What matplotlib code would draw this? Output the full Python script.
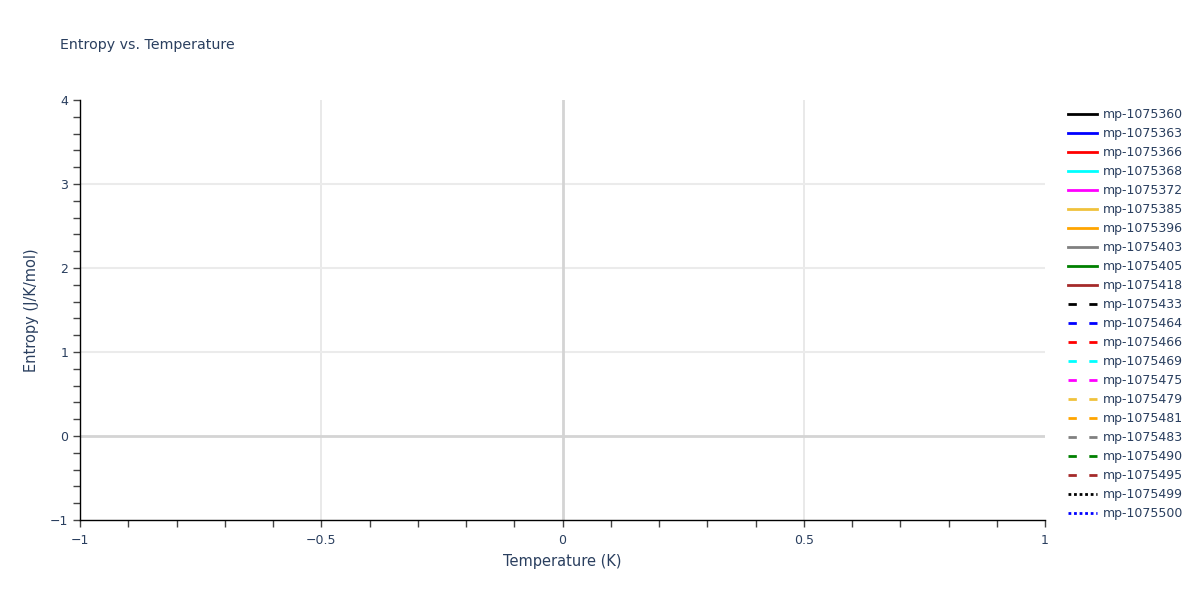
import matplotlib.pyplot as plt
from matplotlib.ticker import MultipleLocator

# series names (the chart has no visible data points)
materiales = ["mp-1075360", "mp-1075363", "mp-1075366", "mp-1075368", "mp-1075372",
              "mp-1075385", "mp-1075396", "mp-1075403", "mp-1075405", "mp-1075418",
              "mp-1075433", "mp-1075464", "mp-1075466", "mp-1075469", "mp-1075475",
              "mp-1075479", "mp-1075481", "mp-1075483", "mp-1075490", "mp-1075495",
              "mp-1075499", "mp-1075500"]
colores = ["black", "blue", "red", "cyan", "magenta", "#f0c23c", "orange", "gray",
           "green", "brown"]
temperatura = []
entropia = []

texto = "#2a3f5f"
plt.rcParams['font.family'] = ['DejaVu Sans']

fig = plt.figure(figsize=(12, 6), dpi=100)
ax = fig.add_axes([80 / 1200, 80 / 600, 965 / 1200, 420 / 600])

for i, nombre in enumerate(materiales):
    color = colores[i % 10]
    if i < 10:
        ax.plot(temperatura, entropia, color=color, lw=2, ls='-', label=nombre)
    elif i < 20:
        ax.plot(temperatura, entropia, color=color, lw=2, ls=(0, (3, 4.5)), label=nombre)
    else:
        ax.plot(temperatura, entropia, color=color, lw=2, ls=(0, (1, 1)), label=nombre)

ax.set_xlim(-1, 1)
ax.set_ylim(-1, 4)
ax.xaxis.set_minor_locator(MultipleLocator(0.1))
ax.yaxis.set_minor_locator(MultipleLocator(0.2))
ax.set_xticks([-1, -0.5, 0, 0.5, 1])
ax.set_xticklabels(["\u22121", "\u22120.5", "0", "0.5", "1"])
ax.set_yticks([-1, 0, 1, 2, 3, 4])
ax.set_yticklabels(["\u22121", "0", "1", "2", "3", "4"])

# grid y lineas de cero
for v in [-0.5, 0.5]:
    ax.axvline(v, color="#e5e5e5", lw=1.2, zorder=0)
for v in [1, 2, 3]:
    ax.axhline(v, color="#ebebeb", lw=1.5, zorder=0)
ax.axvline(0, color="#d4d4d4", lw=2, zorder=0)
ax.axhline(0, color="#d4d4d4", lw=2, zorder=0)

for s in ['top', 'right']:
    ax.spines[s].set_visible(False)
for s in ['left', 'bottom']:
    ax.spines[s].set_color("black")
    ax.spines[s].set_linewidth(1)

ax.tick_params(which='both', direction='out', length=5, width=1, color="#444444",
               labelcolor=texto, labelsize=9)
ax.tick_params(axis='x', pad=5)

ax.set_xlabel("Temperature (K)", color=texto, fontsize=10.5, labelpad=5)
ax.set_ylabel("Entropy (J/K/mol)", color=texto, fontsize=10.5, labelpad=8)
fig.text(60 / 1200, 1 - 45 / 600, "Entropy vs. Temperature", color=texto, fontsize=10.2,
         va='center', ha='left')

leg = fig.legend(loc='upper left', bbox_to_anchor=(1068 / 1200, 1 - 108 / 600),
                 frameon=False, fontsize=9, labelspacing=0.48, handlelength=2.3,
                 handletextpad=0.5, borderaxespad=0, borderpad=0)
for t in leg.get_texts():
    t.set_color(texto)

fig.savefig("out.png", dpi=100)
